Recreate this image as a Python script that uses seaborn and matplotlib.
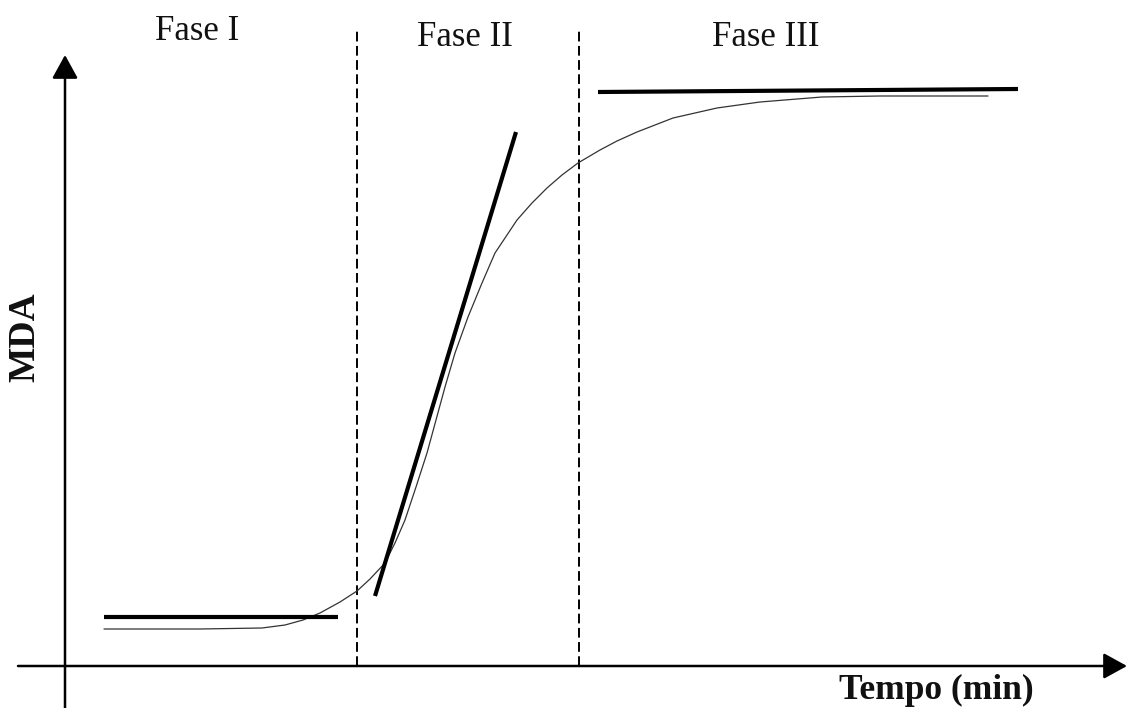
import matplotlib
matplotlib.use("Agg")
import matplotlib.pyplot as plt
import seaborn as sns
import pandas as pd

# ---- data (arbitrary units: time, MDA) ----
curve_t = [3.9, 13.5, 19.7, 22.0, 23.8, 25.5, 27.5, 29.2, 30.5, 32.0, 33.0, 34.0,
           35.1, 36.2, 37.1, 38.0, 39.0, 40.3, 41.7, 43.0, 45.2, 46.7, 48.2, 49.7,
           51.3, 53.5, 55.2, 57.2, 60.8, 65.2, 69.5, 75.7, 81.5, 92.3]
curve_mda = [3.7, 3.7, 3.8, 4.1, 4.6, 5.3, 6.4, 7.5, 8.7, 10.3, 12.3, 14.6,
             17.9, 21.3, 24.6, 27.9, 31.3, 34.9, 38.3, 41.3, 44.6, 46.3, 47.8, 49.1,
             50.3, 51.6, 52.5, 53.4, 54.8, 55.8, 56.4, 56.9, 57.0, 57.0]

tan1_t = [3.9, 27.3]
tan1_mda = [4.9, 4.9]
tan2_t = [31.0, 45.1]
tan2_mda = [7.0, 53.4]
tan3_t = [53.3, 95.3]
tan3_mda = [57.4, 57.7]

phase_bounds = [29.2, 51.4]
phase_labels = ["Fase I", "Fase II", "Fase III"]
phase_label_t = [13.2, 40.0, 70.1]
phase_label_mda = [63.4, 62.8, 62.8]

x_label = "Tempo (min)"
y_label = "MDA"

# ---- style ----
sns.set_theme(style="white")
plt.rcParams["font.family"] = ["Liberation Serif", "DejaVu Serif"]

fig = plt.figure(figsize=(11.29, 7.08), dpi=100)
ax = fig.add_axes([0, 0, 1, 1])
ax.set_xlim(-6.5, 106.4)
ax.set_ylim(-4.2, 66.6)
ax.axis("off")

# axes with arrows
ax.annotate("", xy=(106.2, 0), xytext=(-4.7, 0),
            arrowprops=dict(arrowstyle="-|>,head_length=1.0,head_width=0.55",
                            mutation_scale=14.4, lw=1.8, color="black",
                            shrinkA=0, shrinkB=0))
ax.annotate("", xy=(0, 61.1), xytext=(0, -4.2),
            arrowprops=dict(arrowstyle="-|>,head_length=1.0,head_width=0.55",
                            mutation_scale=14.4, lw=1.8, color="black",
                            shrinkA=0, shrinkB=0))

# phase boundaries
for b in phase_bounds:
    ax.plot([b, b], [0, 63.6], color="black", lw=1.4, linestyle=(0, (5, 2.3)))

# sigmoid curve
df_curve = pd.DataFrame({"t": curve_t, "mda": curve_mda})
sns.lineplot(data=df_curve, x="t", y="mda", ax=ax, color="#333333", lw=0.9,
             sort=False, estimator=None, solid_joinstyle="round")

# tangents
for tt, mm in [(tan1_t, tan1_mda), (tan2_t, tan2_mda), (tan3_t, tan3_mda)]:
    sns.lineplot(x=tt, y=mm, ax=ax, color="black", lw=3.0, sort=False,
                 estimator=None, solid_capstyle="butt")

# labels
for lab, tx, my in zip(phase_labels, phase_label_t, phase_label_mda):
    ax.text(tx, my, lab, ha="center", va="center", fontsize=25, color="#111111")

ax.text(-4.0, 32.9, y_label, rotation=90, ha="center", va="center",
        fontsize=27, fontweight="bold", color="#111111")
ax.text(87.1, -2.4, x_label, ha="center", va="center",
        fontsize=25.5, fontweight="bold", color="#111111")

ax.set_xlabel("")
ax.set_ylabel("")
fig.savefig("out.png", dpi=100)
